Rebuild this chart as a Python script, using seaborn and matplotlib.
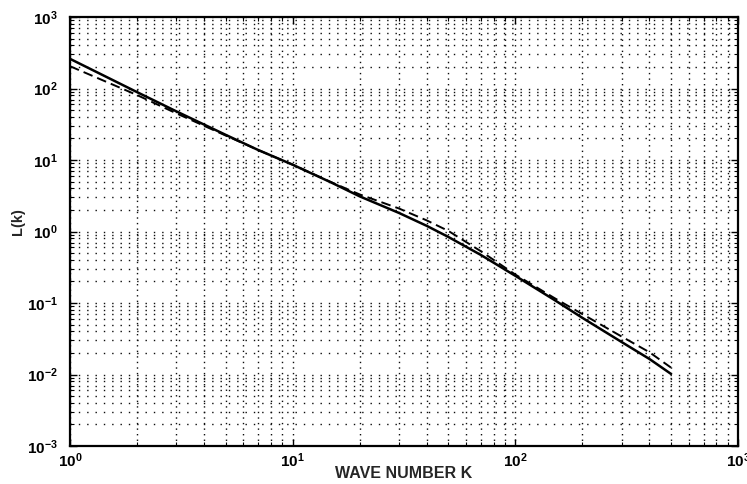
import numpy as np
import pandas as pd
import matplotlib
matplotlib.use("Agg")
import matplotlib.pyplot as plt
import matplotlib.ticker as mticker
import seaborn as sns

# ---- data ----
k_solid = [1, 2, 3, 5, 7, 10, 15, 20, 30, 40, 50, 70, 100, 150, 200, 300, 400, 500]
L_solid = [260, 89, 48, 22.5, 13.8, 8.6, 4.8, 3.1, 1.82, 1.2, 0.84, 0.47, 0.24,
           0.11, 0.062, 0.0285, 0.0165, 0.0102]
k_dashed = [1, 2, 3, 5, 7, 10, 15, 20, 30, 40, 50, 70, 100, 150, 200, 300, 400, 500]
L_dashed = [205, 81, 45, 22, 13.8, 8.6, 4.85, 3.3, 2.1, 1.43, 1.02, 0.53, 0.25,
            0.117, 0.07, 0.034, 0.0205, 0.0125]
x_label = "WAVE NUMBER K"
y_label = "L(k)"

sns.set_style("white")
plt.rcParams["font.family"] = ["Liberation Sans", "DejaVu Sans"]
plt.rcParams["mathtext.fontset"] = "custom"
plt.rcParams["mathtext.rm"] = "Liberation Sans"
plt.rcParams["mathtext.bf"] = "Liberation Sans:bold"

df_s = pd.DataFrame({"k": k_solid, "L": L_solid})
df_d = pd.DataFrame({"k": k_dashed, "L": L_dashed})

fig = plt.figure(figsize=(7.47, 4.84), dpi=100)
ax = fig.add_axes([70 / 747, 1 - 446 / 484, (738 - 70) / 747, (446 - 17) / 484])

sns.lineplot(data=df_s, x="k", y="L", ax=ax, color="black", linewidth=1.8,
             estimator=None, sort=True)
sns.lineplot(data=df_d, x="k", y="L", ax=ax, color="black", linewidth=1.4,
             estimator=None, sort=True, linestyle=(0, (5, 2.6)))

ax.set_xscale("log")
ax.set_yscale("log")
ax.set_xlim(1, 1000)
ax.set_ylim(1e-3, 1e3)

for axis in (ax.xaxis, ax.yaxis):
    axis.set_major_locator(mticker.LogLocator(base=10, numticks=100))
    axis.set_minor_locator(mticker.LogLocator(base=10, subs=np.arange(2, 10), numticks=100))
    axis.set_minor_formatter(mticker.NullFormatter())
    axis.set_major_formatter(mticker.FuncFormatter(
        lambda v, p: r"$\mathbf{10^{%d}}$" % int(round(np.log10(v)))))

ax.grid(True, which="both", axis="x", color="0.05", linewidth=1.0,
        linestyle=(0, (1, 3)))
ax.grid(True, which="both", axis="y", color="0.05", linewidth=1.0,
        linestyle=(0, (1, 5)))
ax.set_axisbelow(True)

ax.tick_params(which="both", direction="in", top=True, right=True,
               bottom=True, left=True, colors="black")
ax.tick_params(which="major", length=5, width=1.0)
ax.tick_params(which="minor", length=3, width=0.8)
ax.tick_params(axis="x", which="major", labelsize=11, pad=4)
ax.tick_params(axis="y", which="major", labelsize=11, pad=9)

for sp in ax.spines.values():
    sp.set_visible(True)
    sp.set_color("black")
    sp.set_linewidth(1.6)

ax.set_xlabel(x_label, fontsize=11.5, fontweight="bold")
ax.xaxis.set_label_coords(0.5, -(466 - 446) / 429)
ax.set_ylabel(y_label, fontsize=10.5, fontweight="bold")
ax.yaxis.set_label_coords(-(70 - 25) / 668, 0.522)

fig.savefig("out.png", dpi=100)
